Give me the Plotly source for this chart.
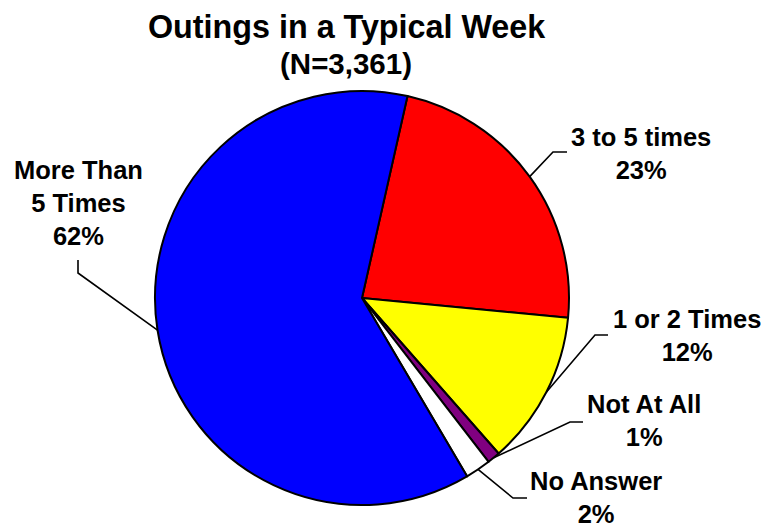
import math
import plotly.graph_objects as go

# chart data
categories = ["3 to 5 times", "1 or 2 Times", "Not At All", "No Answer", "More Than<br>5 Times"]
percents = [23, 12, 1, 2, 62]
colors = ["#FF0000", "#FFFF00", "#800080", "#FFFFFF", "#0000FF"]
title_text = "Outings in a Typical Week"
subtitle_text = "(N=3,361)"

# layout (pixel space of the 778x524 window)
W, H = 778, 524
OFF = 8  # page body margin, the plot div starts 8px in
CX, CY, R = 362, 298, 207
ROTATION = 12.7
FONT = "Liberation Sans, Arial, sans-serif"

# where each label sits and where its leader line bends
label_pos = [(641, 153), (687, 335), (644, 420), (596, 497), (78, 203)]
elbows = [
    [(553, 152), (567, 152)],
    [(595, 335), (608, 335)],
    [(570, 422), (583, 422)],
    [(513, 498), (527, 498)],
    [(78, 273), (78, 260)],
]

fig = go.Figure()

fig.add_trace(go.Pie(
    labels=categories,
    values=percents,
    sort=False,
    direction="clockwise",
    rotation=ROTATION,
    marker=dict(colors=colors, line=dict(color="black", width=2)),
    textinfo="none",
    hoverinfo="label+percent",
    showlegend=False,
    domain=dict(x=[(CX - OFF - R) / W, (CX - OFF + R) / W],
                y=[1 - (CY - OFF + R) / H, 1 - (CY - OFF - R) / H]),
))

# leader lines start at the middle of each slice on the rim
total = sum(percents)
start = ROTATION
for i, v in enumerate(percents):
    mid = math.radians(start + 360 * v / total / 2)
    start += 360 * v / total
    ex, ey = CX + R * math.sin(mid), CY - R * math.cos(mid)
    pts = [(ex, ey)] + elbows[i]
    fig.add_trace(go.Scatter(
        x=[p[0] for p in pts], y=[p[1] for p in pts],
        mode="lines", line=dict(color="black", width=1.6),
        hoverinfo="skip", showlegend=False,
    ))

annotations = []
for name, pct, (lx, ly) in zip(categories, percents, label_pos):
    annotations.append(dict(
        x=lx, y=ly, xref="x", yref="y", showarrow=False,
        text=f"<b>{name}<br>{pct}%</b>",
        font=dict(family=FONT, size=25.5, color="black"),
        xanchor="center", yanchor="middle", align="center",
    ))

annotations.append(dict(
    x=346, y=27, xref="x", yref="y", showarrow=False,
    text=f"<b>{title_text}</b>",
    font=dict(family=FONT, size=32.3, color="black"),
    xanchor="center", yanchor="middle",
))
annotations.append(dict(
    x=346, y=63, xref="x", yref="y", showarrow=False,
    text=f"<b>{subtitle_text}</b>",
    font=dict(family=FONT, size=29.5, color="black"),
    xanchor="center", yanchor="middle",
))

fig.update_layout(
    width=W, height=H,
    margin=dict(l=0, r=0, t=0, b=0),
    paper_bgcolor="white", plot_bgcolor="white",
    xaxis=dict(range=[OFF, W + OFF], visible=False, fixedrange=True),
    yaxis=dict(range=[H + OFF, OFF], visible=False, fixedrange=True),
    annotations=annotations,
)

fig.write_html("out.html")
